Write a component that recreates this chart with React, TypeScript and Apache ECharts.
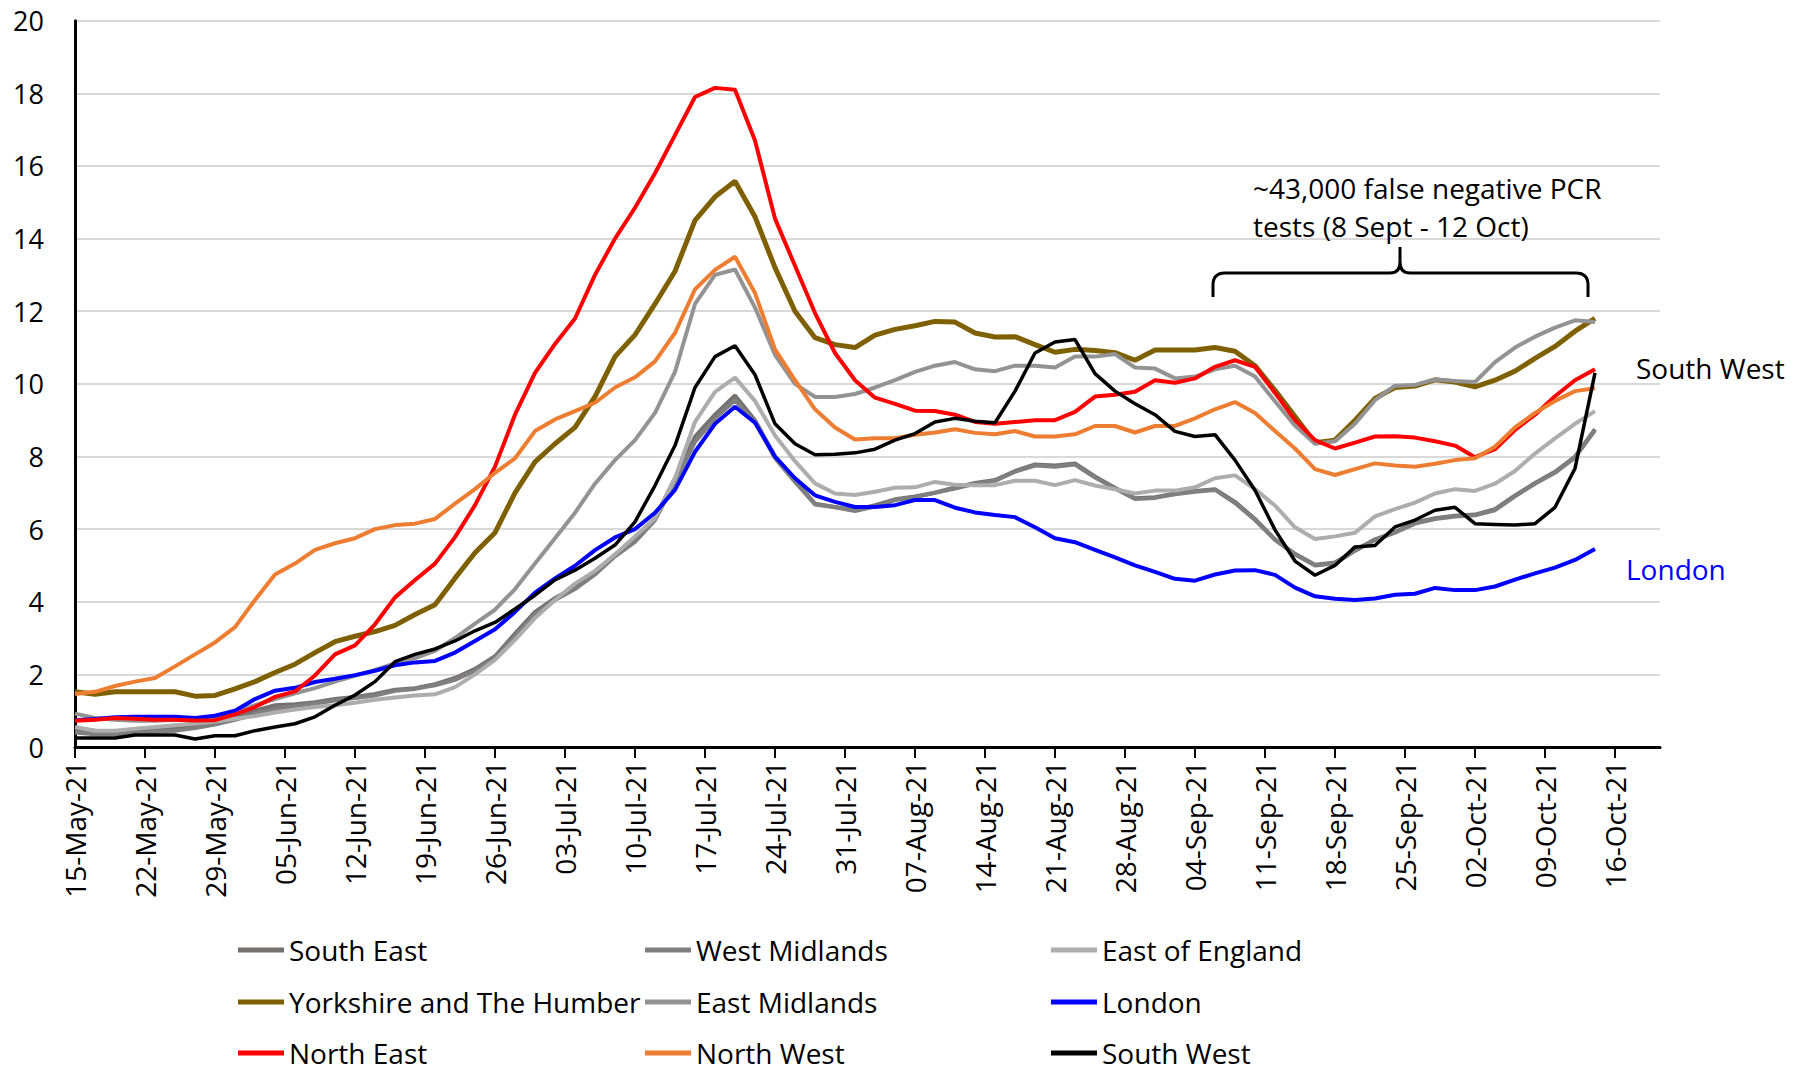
import React, { useEffect, useRef } from 'react';
import * as echarts from 'echarts';

// Sample days (days since 15-May-21)
const days = [
  0, 2, 4, 6, 8, 10, 12, 14, 16, 18, 20, 22, 24, 26, 28, 30, 32, 34, 36, 38,
  40, 42, 44, 46, 48, 50, 52, 54, 56, 58, 60, 62, 64, 66, 68, 70, 72, 74, 76, 78,
  80, 82, 84, 86, 88, 90, 92, 94, 96, 98, 100, 102, 104, 106, 108, 110, 112, 114, 116, 118,
  120, 122, 124, 126, 128, 130, 132, 134, 136, 138, 140, 142, 144, 146, 148, 150, 152,
];

const tickDays = [0, 7, 14, 21, 28, 35, 42, 49, 56, 63, 70, 77, 84, 91, 98, 105, 112, 119, 126, 133, 140, 147, 154];
const tickLabels = [
  '15-May-21', '22-May-21', '29-May-21', '05-Jun-21', '12-Jun-21', '19-Jun-21', '26-Jun-21',
  '03-Jul-21', '10-Jul-21', '17-Jul-21', '24-Jul-21', '31-Jul-21', '07-Aug-21', '14-Aug-21',
  '21-Aug-21', '28-Aug-21', '04-Sep-21', '11-Sep-21', '18-Sep-21', '25-Sep-21', '02-Oct-21',
  '09-Oct-21', '16-Oct-21',
];

const southEast = [
  0.5, 0.45, 0.42, 0.45, 0.48, 0.52, 0.6, 0.72, 0.82, 1.0,
  1.15, 1.18, 1.23, 1.32, 1.38, 1.46, 1.58, 1.62, 1.73, 1.9,
  2.15, 2.5, 3.12, 3.72, 4.1, 4.4, 4.8, 5.3, 5.7, 6.3,
  7.4, 8.55, 9.15, 9.68, 9.0, 8.0, 7.35, 6.7, 6.61, 6.52,
  6.66, 6.82, 6.9, 7.0, 7.15, 7.27, 7.35, 7.6, 7.78, 7.75,
  7.81, 7.45, 7.14, 6.85, 6.88, 6.98, 7.05, 7.1, 6.75, 6.28,
  5.72, 5.32, 5.02, 5.08, 5.42, 5.72, 5.92, 6.18, 6.3, 6.37,
  6.4, 6.55, 6.93, 7.27, 7.58, 8.0, 8.75,
];

const westMidlands = [
  0.4, 0.35, 0.35, 0.38, 0.42, 0.45, 0.52, 0.62, 0.75, 0.9,
  1.05, 1.12, 1.2, 1.28, 1.35, 1.42, 1.55, 1.6, 1.7, 1.85,
  2.1, 2.45, 3.05, 3.65, 4.05, 4.35, 4.75, 5.25, 5.65, 6.25,
  7.3, 8.4, 9.05, 9.55, 8.95, 7.95, 7.3, 6.68, 6.6, 6.5,
  6.62, 6.8, 6.88, 7.0, 7.12, 7.25, 7.33, 7.58, 7.75, 7.72,
  7.78, 7.42, 7.12, 6.83, 6.86, 6.96, 7.03, 7.08, 6.72, 6.25,
  5.7, 5.3, 5.0, 5.05, 5.4, 5.7, 5.9, 6.15, 6.28, 6.35,
  6.38, 6.52, 6.9, 7.25, 7.55, 7.97, 8.72,
];

const eastOfEngland = [
  0.55, 0.45, 0.45, 0.5, 0.55, 0.6, 0.65, 0.7, 0.78, 0.85,
  0.95, 1.03, 1.1, 1.15, 1.22, 1.3, 1.36, 1.42, 1.45, 1.65,
  2.0, 2.4, 2.95, 3.55, 4.05, 4.5, 4.85, 5.3, 5.8, 6.3,
  7.4, 8.95, 9.78, 10.17, 9.53, 8.58, 7.87, 7.26, 6.98, 6.94,
  7.03, 7.14, 7.15, 7.3, 7.22, 7.21, 7.21, 7.33, 7.33, 7.21,
  7.35, 7.2, 7.1, 6.98, 7.06, 7.06, 7.15, 7.4, 7.48, 7.1,
  6.65, 6.05, 5.73, 5.8, 5.9, 6.35, 6.55, 6.73, 6.98, 7.1,
  7.05, 7.25, 7.6, 8.08, 8.5, 8.9, 9.25,
];

const yorkshire = [
  1.52, 1.45, 1.52, 1.52, 1.52, 1.52, 1.4, 1.42, 1.6, 1.8,
  2.05, 2.28, 2.6, 2.9, 3.05, 3.18, 3.35, 3.65, 3.92, 4.65,
  5.35, 5.9, 7.0, 7.85, 8.35, 8.8, 9.65, 10.75, 11.35, 12.2,
  13.1, 14.5, 15.15, 15.58, 14.6, 13.2, 12.0, 11.27, 11.08, 11.0,
  11.34, 11.5, 11.6, 11.72, 11.7, 11.4, 11.29, 11.3, 11.08, 10.87,
  10.95, 10.92, 10.86, 10.65, 10.93, 10.93, 10.93, 11.0, 10.9, 10.5,
  9.82, 9.1, 8.38, 8.45, 9.0, 9.6, 9.9, 9.94, 10.11, 10.05,
  9.92, 10.1, 10.35, 10.7, 11.03, 11.45, 11.8,
];

const eastMidlands = [
  0.92, 0.8, 0.75, 0.72, 0.72, 0.75, 0.75, 0.8, 0.95, 1.15,
  1.32, 1.48, 1.62, 1.8, 1.96, 2.12, 2.3, 2.45, 2.65, 3.0,
  3.4, 3.78, 4.35, 5.05, 5.75, 6.45, 7.25, 7.9, 8.45, 9.2,
  10.33, 12.2, 13.0, 13.15, 12.1, 10.8, 10.0, 9.64, 9.64, 9.72,
  9.9, 10.1, 10.33, 10.5, 10.6, 10.4, 10.35, 10.5, 10.5, 10.45,
  10.75, 10.75, 10.82, 10.45, 10.42, 10.15, 10.2, 10.4, 10.5, 10.2,
  9.52, 8.85, 8.35, 8.42, 8.9, 9.55, 9.95, 9.97, 10.12, 10.08,
  10.05, 10.6, 11.0, 11.3, 11.55, 11.75, 11.7,
];

const london = [
  0.74, 0.77, 0.82, 0.83, 0.83, 0.83, 0.8, 0.86, 1.0, 1.32,
  1.55, 1.63, 1.79, 1.88, 1.98, 2.1, 2.25, 2.33, 2.37, 2.6,
  2.92, 3.24, 3.72, 4.25, 4.64, 4.99, 5.42, 5.77, 6.0, 6.45,
  7.08, 8.13, 8.9, 9.37, 8.93, 8.0, 7.4, 6.93, 6.75, 6.61,
  6.61, 6.66, 6.8, 6.8, 6.59, 6.46, 6.39, 6.33, 6.05, 5.75,
  5.64, 5.43, 5.22, 5.0, 4.82, 4.63, 4.58, 4.75, 4.86, 4.87,
  4.74, 4.39, 4.15, 4.08, 4.05, 4.09, 4.19, 4.22, 4.38, 4.32,
  4.32, 4.42, 4.61, 4.78, 4.94, 5.15, 5.45,
];

const northEast = [
  0.72, 0.75, 0.8, 0.78, 0.75, 0.75, 0.73, 0.74, 0.9, 1.1,
  1.38, 1.53, 1.97, 2.55, 2.8, 3.38, 4.12, 4.6, 5.05, 5.78,
  6.66, 7.72, 9.15, 10.3, 11.1, 11.8, 13.0, 14.0, 14.85, 15.8,
  16.85, 17.9, 18.15, 18.1, 16.7, 14.55, 13.25, 11.95, 10.85, 10.1,
  9.62, 9.45, 9.26, 9.25, 9.15, 8.95, 8.9, 8.95, 9.0, 9.0,
  9.23, 9.65, 9.7, 9.78, 10.1, 10.03, 10.15, 10.47, 10.65, 10.47,
  9.75, 9.0, 8.45, 8.22, 8.38, 8.55, 8.56, 8.52, 8.42, 8.3,
  7.98, 8.2, 8.73, 9.15, 9.66, 10.1, 10.4,
];

const northWest = [
  1.46, 1.52, 1.68, 1.8, 1.9, 2.22, 2.55, 2.88, 3.3, 4.05,
  4.75, 5.05, 5.43, 5.61, 5.75, 6.0, 6.11, 6.15, 6.28, 6.7,
  7.1, 7.55, 7.95, 8.7, 9.02, 9.25, 9.48, 9.9, 10.18, 10.62,
  11.4, 12.6, 13.14, 13.5, 12.5, 10.95, 10.1, 9.3, 8.8, 8.47,
  8.5, 8.5, 8.6, 8.66, 8.75, 8.65, 8.61, 8.7, 8.55, 8.55,
  8.61, 8.84, 8.84, 8.66, 8.84, 8.84, 9.05, 9.3, 9.5, 9.2,
  8.7, 8.22, 7.65, 7.49, 7.65, 7.81, 7.75, 7.72, 7.8, 7.9,
  7.95, 8.27, 8.8, 9.2, 9.53, 9.8, 9.88,
];

const southWest = [
  0.25, 0.25, 0.25, 0.33, 0.33, 0.33, 0.22, 0.31, 0.31, 0.45,
  0.55, 0.64, 0.83, 1.15, 1.43, 1.8, 2.35, 2.55, 2.7, 2.92,
  3.2, 3.43, 3.8, 4.18, 4.6, 4.87, 5.2, 5.56, 6.2, 7.2,
  8.3, 9.9, 10.75, 11.05, 10.25, 8.9, 8.35, 8.05, 8.06, 8.1,
  8.2, 8.45, 8.63, 8.95, 9.05, 8.97, 8.93, 9.8, 10.85, 11.15,
  11.22, 10.28, 9.8, 9.45, 9.15, 8.69, 8.55, 8.6, 7.9, 7.07,
  5.98, 5.12, 4.73, 5.0, 5.51, 5.55, 6.06, 6.25, 6.52, 6.6,
  6.15, 6.13, 6.11, 6.15, 6.6, 7.67, 10.3,
];

const seriesNames = [
  'South East', 'West Midlands', 'East of England',
  'Yorkshire and The Humber', 'East Midlands', 'London',
  'North East', 'North West', 'South West',
];
const seriesValues = [
  southEast, westMidlands, eastOfEngland,
  yorkshire, eastMidlands, london,
  northEast, northWest, southWest,
];
const seriesColors = [
  '#767171', '#7f7f7f', '#adadad',
  '#7f6000', '#939393', '#0000ff',
  '#ff0000', '#ed7d31', '#000000',
];
const seriesWidths = [4, 4, 4, 5, 4, 4, 4, 4, 3.5];

const annotationLines = ['~43,000 false negative PCR', 'tests (8 Sept - 12 Oct)'];

// Layout
const FONT = '"Open Sans", "Noto Sans", sans-serif';
const legendCols = [238, 645, 1051];
const legendRows = [950, 1002, 1053];

const braceD =
  'M1213,297 L1213,285 Q1213,273 1225,273 L1390,273 Q1400,273 1400,262 L1400,247 ' +
  'M1400,262 Q1400,273 1410,273 L1576,273 Q1588,273 1588,285 L1588,297';
echarts.graphic.registerShape('brace', echarts.graphic.extendPath(braceD, {}));

function buildOption() {
  return {
    animation: false,
    backgroundColor: '#ffffff',
    textStyle: { fontFamily: FONT },
    grid: { left: 75, right: 138, top: 20.7, bottom: 324, containLabel: false },
    xAxis: {
      type: 'value',
      min: 0,
      max: 158.5,
      axisLine: { show: true, onZero: false, lineStyle: { color: '#000', width: 3 } },
      axisTick: {
        show: true,
        customValues: tickDays,
        length: 11,
        lineStyle: { color: '#000', width: 2 },
      },
      axisLabel: {
        customValues: tickDays,
        rotate: 90,
        margin: 14,
        fontSize: 28,
        fontFamily: FONT,
        color: '#000',
        formatter: (v: number) => {
          const i = tickDays.indexOf(Math.round(v));
          return i >= 0 ? tickLabels[i] : '';
        },
      },
      splitLine: { show: false },
    },
    yAxis: {
      type: 'value',
      min: 0,
      max: 20,
      interval: 2,
      axisLine: { show: true, lineStyle: { color: '#000', width: 3 } },
      axisTick: { show: false },
      axisLabel: { fontSize: 27, fontFamily: FONT, color: '#000', margin: 31 },
      splitLine: { show: true, lineStyle: { color: '#d9d9d9', width: 2 } },
    },
    legend: seriesNames.map((name, i) => ({
      data: [name],
      left: legendCols[i % 3],
      top: legendRows[Math.floor(i / 3)] - 14,
      icon: 'rect',
      itemWidth: 46,
      itemHeight: 5,
      padding: 0,
      selectedMode: false,
      textStyle: { fontSize: 28, fontFamily: FONT, color: '#000' },
    })),
    series: seriesNames.map((name, i) => ({
      name,
      type: 'line',
      showSymbol: false,
      symbol: 'none',
      color: seriesColors[i],
      lineStyle: { color: seriesColors[i], width: seriesWidths[i] },
      data: days.map((d, j) => [d, seriesValues[i][j]]),
      z: 2 + i,
    })),
    graphic: [
      {
        type: 'brace',
        x: 0,
        y: 0,
        z: 100,
        style: { fill: 'none', stroke: '#000', lineWidth: 3 },
      },
      {
        type: 'text',
        x: 1253,
        y: 188,
        z: 100,
        style: { text: annotationLines[0], fontSize: 28, fontFamily: FONT, fill: '#000', verticalAlign: 'middle', align: 'left' },
      },
      {
        type: 'text',
        x: 1253,
        y: 226,
        z: 100,
        style: { text: annotationLines[1], fontSize: 28, fontFamily: FONT, fill: '#000', verticalAlign: 'middle', align: 'left' },
      },
      {
        type: 'text',
        x: 1636,
        y: 368,
        z: 100,
        style: { text: 'South West', fontSize: 28, fontFamily: FONT, fill: '#000', verticalAlign: 'middle', align: 'left' },
      },
      {
        type: 'text',
        x: 1626,
        y: 569,
        z: 100,
        style: { text: 'London', fontSize: 28, fontFamily: FONT, fill: '#0000ff', verticalAlign: 'middle', align: 'left' },
      },
    ],
  };
}

export default function App() {
  const ref = useRef<HTMLDivElement>(null);
  useEffect(() => {
    if (!ref.current) return;
    const chart = echarts.init(ref.current, undefined, { renderer: 'svg' });
    chart.setOption(buildOption() as any);
    return () => chart.dispose();
  }, []);
  return (
    <div
      ref={ref}
      style={{ position: 'fixed', left: 0, top: 0, width: 1798, height: 1071, background: '#fff' }}
    />
  );
}
